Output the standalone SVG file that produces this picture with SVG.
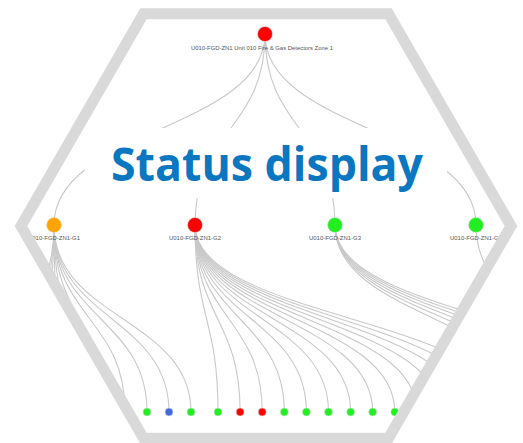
<svg xmlns="http://www.w3.org/2000/svg" width="523" height="443" viewBox="0 0 523 443">
<defs>
<style>
.link{fill:none;stroke:#c8c8c8;stroke-width:1.1}
.lbl{font-family:"Liberation Sans",Arial,sans-serif;font-size:6px;fill:#555;text-anchor:middle}
.title{font-family:"Open Sans","Noto Sans",sans-serif;font-weight:bold;font-size:47px;fill:#0a77c0;text-anchor:middle}
.hex{fill:none;stroke:#d9d9d9;stroke-width:11;stroke-linejoin:miter}
.red{fill:#ff0000}.grn{fill:#22ee22}.org{fill:#ffa500}.blu{fill:#4169e1}
circle{stroke:#e0e0e0;stroke-width:0.6}
</style>
<clipPath id="hexclip"><polygon points="21,226 143.5,13.8 388.5,13.8 511,226 388.5,438.2 143.5,438.2"/></clipPath>
</defs>
<rect width="523" height="443" fill="#ffffff"/>
<g clip-path="url(#hexclip)">
<g id="connectors">
<path class="link" d="M265,34 C265,129.5 54,129.5 54,225"/>
<path class="link" d="M265,34 C265,129.5 195,129.5 195,225"/>
<path class="link" d="M265,34 C265,129.5 335,129.5 335,225"/>
<path class="link" d="M265,34 C265,129.5 476,129.5 476,225"/>
<path class="link" d="M54,225 C54,318.5 191,318.5 191,412"/>
<path class="link" d="M54,225 C54,318.5 169,318.5 169,412"/>
<path class="link" d="M54,225 C54,318.5 147,318.5 147,412"/>
<path class="link" d="M54,225 C54,318.5 125,318.5 125,412"/>
<path class="link" d="M54,225 C54,318.5 103,318.5 103,412"/>
<path class="link" d="M54,225 C54,318.5 81,318.5 81,412"/>
<path class="link" d="M54,225 C54,318.5 59,318.5 59,412"/>
<path class="link" d="M54,225 C54,318.5 37,318.5 37,412"/>
<path class="link" d="M54,225 C54,318.5 15,318.5 15,412"/>
<path class="link" d="M54,225 C54,318.5 -7,318.5 -7,412"/>
<path class="link" d="M195,225 C195,318.5 218,318.5 218,412"/>
<path class="link" d="M195,225 C195,318.5 240.1,318.5 240.1,412"/>
<path class="link" d="M195,225 C195,318.5 262.2,318.5 262.2,412"/>
<path class="link" d="M195,225 C195,318.5 284.3,318.5 284.3,412"/>
<path class="link" d="M195,225 C195,318.5 306.4,318.5 306.4,412"/>
<path class="link" d="M195,225 C195,318.5 328.5,318.5 328.5,412"/>
<path class="link" d="M195,225 C195,318.5 350.6,318.5 350.6,412"/>
<path class="link" d="M195,225 C195,318.5 372.7,318.5 372.7,412"/>
<path class="link" d="M195,225 C195,318.5 394.8,318.5 394.8,412"/>
<path class="link" d="M195,225 C195,318.5 416.9,318.5 416.9,412"/>
<path class="link" d="M195,225 C195,318.5 439,318.5 439,412"/>
<path class="link" d="M195,225 C195,318.5 461.1,318.5 461.1,412"/>
<path class="link" d="M195,225 C195,318.5 483.2,318.5 483.2,412"/>
<path class="link" d="M195,225 C195,318.5 505.3,318.5 505.3,412"/>
<path class="link" d="M335,225 C335,318.5 532,318.5 532,412"/>
<path class="link" d="M335,225 C335,318.5 554,318.5 554,412"/>
<path class="link" d="M335,225 C335,318.5 576,318.5 576,412"/>
<path class="link" d="M335,225 C335,318.5 598,318.5 598,412"/>
<path class="link" d="M335,225 C335,318.5 620,318.5 620,412"/>
<path class="link" d="M335,225 C335,318.5 642,318.5 642,412"/>
<path class="link" d="M476,225 C476,318.5 600,318.5 600,412"/>
</g>
<g id="root">
<circle class="red" cx="265" cy="34" r="7.5"/>
<text class="lbl" x="262" y="50" textLength="142" lengthAdjust="spacingAndGlyphs">U010-FGD-ZN1 Unit 010 Fire &amp; Gas Detectors Zone 1</text>
</g>
<g id="g1">
<circle class="org" cx="54" cy="225" r="7.5"/>
<text class="lbl" x="54" y="240" textLength="52" lengthAdjust="spacingAndGlyphs">U010-FGD-ZN1-G1</text>
</g>
<g id="g2">
<circle class="red" cx="195" cy="225" r="7.5"/>
<text class="lbl" x="195" y="240" textLength="52" lengthAdjust="spacingAndGlyphs">U010-FGD-ZN1-G2</text>
</g>
<g id="g3">
<circle class="grn" cx="335" cy="225" r="7.5"/>
<text class="lbl" x="335" y="240" textLength="52" lengthAdjust="spacingAndGlyphs">U010-FGD-ZN1-G3</text>
</g>
<g id="g4">
<circle class="grn" cx="476" cy="225" r="7.5"/>
<text class="lbl" x="476" y="240" textLength="52" lengthAdjust="spacingAndGlyphs">U010-FGD-ZN1-G4</text>
</g>
<g id="leaf1"><circle class="grn" cx="147" cy="412" r="4"/></g>
<g id="leaf2"><circle class="blu" cx="169" cy="412" r="4"/></g>
<g id="leaf3"><circle class="grn" cx="191" cy="412" r="4"/></g>
<g id="leaf4"><circle class="grn" cx="218" cy="412" r="4"/></g>
<g id="leaf5"><circle class="red" cx="240.1" cy="412" r="4"/></g>
<g id="leaf6"><circle class="red" cx="262.2" cy="412" r="4"/></g>
<g id="leaf7"><circle class="grn" cx="284.3" cy="412" r="4"/></g>
<g id="leaf8"><circle class="grn" cx="306.4" cy="412" r="4"/></g>
<g id="leaf9"><circle class="grn" cx="328.5" cy="412" r="4"/></g>
<g id="leaf10"><circle class="grn" cx="350.6" cy="412" r="4"/></g>
<g id="leaf11"><circle class="grn" cx="372.7" cy="412" r="4"/></g>
<g id="leaf12"><circle class="grn" cx="394.8" cy="412" r="4"/></g>
</g>
<g id="title">
<rect x="85" y="128" width="362" height="70" fill="#ffffff"/>
<text class="title" x="267" y="181" textLength="312" lengthAdjust="spacingAndGlyphs">Status display</text>
</g>
<g id="frame">
<polygon class="hex" points="21,226 143.5,13.8 388.5,13.8 511,226 388.5,438.2 143.5,438.2"/>
</g>
</svg>
